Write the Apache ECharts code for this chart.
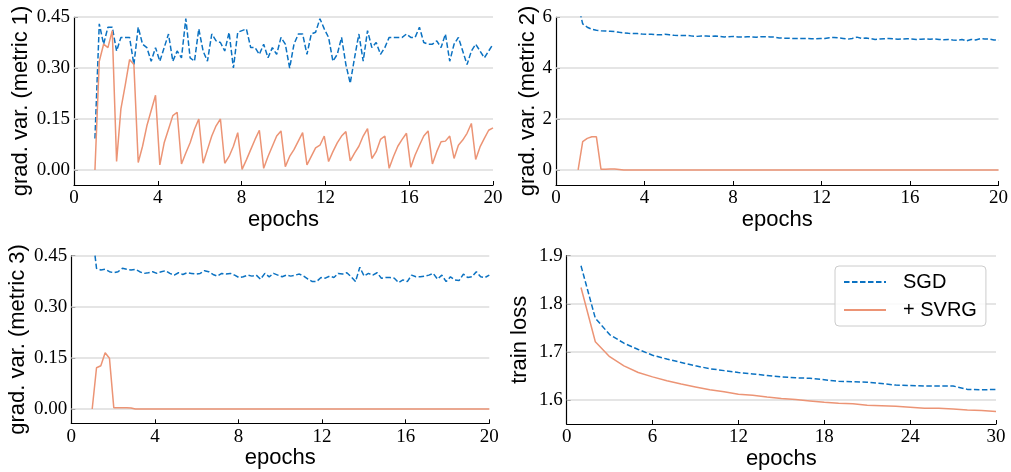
<!DOCTYPE html>
<html><head><meta charset="utf-8">
<script src="https://cdn.jsdelivr.net/npm/echarts@6/dist/echarts.min.js"></script>
<style>html,body{margin:0;padding:0;background:#fff}#c{width:1011px;height:472px}</style>
</head><body><div id="c"></div>
<script>
// sampling grid of the gradient-variance curves (epochs 1..20, 93 samples)
const nSamples = 93;
const epochs = Array.from({length: nSamples}, (_, k) => 1 + k * 19 / 92);

const m1SGD = [0.093,0.43,0.37,0.42,0.42,0.35,0.39,0.39,0.39,0.31,
  0.42,0.37,0.36,0.32,0.36,0.32,0.36,0.40,0.32,0.35,
  0.33,0.445,0.33,0.32,0.415,0.35,0.32,0.40,0.38,0.375,
  0.35,0.405,0.30,0.405,0.41,0.415,0.36,0.36,0.34,0.37,
  0.33,0.36,0.34,0.39,0.37,0.30,0.37,0.40,0.40,0.34,
  0.40,0.405,0.445,0.415,0.39,0.32,0.34,0.39,0.31,0.255,
  0.33,0.40,0.32,0.41,0.36,0.375,0.34,0.36,0.39,0.39,
  0.39,0.39,0.40,0.39,0.39,0.42,0.375,0.37,0.37,0.38,
  0.36,0.40,0.32,0.37,0.39,0.35,0.31,0.35,0.37,0.35,
  0.33,0.35,0.37];
const m1SVRG = [0,0.32,0.37,0.36,0.41, 0.025,0.18,0.25,0.325,0.31,
  0.022,0.07,0.13,0.175,0.22, 0.015,0.08,0.12,0.16,0.17,
  0.018,0.05,0.08,0.12,0.15, 0.02,0.06,0.10,0.13,0.15,
  0.02,0.04,0.07,0.11, 0.002,0.03,0.06,0.09,0.117,
  0.005,0.04,0.07,0.10,0.115, 0.01,0.04,0.06,0.085,0.11,
  0.015,0.04,0.065,0.073,0.10, 0.025,0.054,0.08,0.10,0.113,
  0.027,0.05,0.07,0.10,0.122, 0.034,0.054,0.09,0.10,
  0.005,0.04,0.07,0.09,0.108, 0.008,0.044,0.073,0.10,0.115,
  0.018,0.054,0.083,0.085,0.10, 0.034,0.073,0.088,0.108,0.137,
  0.031,0.068,0.093,0.117,0.124];

const m2SGD = [6.5,5.73,5.6,5.52,5.48,5.46,5.45,5.44,5.43,5.40,
  5.38,5.36,5.35,5.35,5.33,5.32,5.32,5.31,5.30,5.32,
  5.30,5.28,5.27,5.27,5.28,5.25,5.24,5.25,5.25,5.24,
  5.25,5.24,5.22,5.23,5.24,5.22,5.21,5.23,5.22,5.21,
  5.23,5.23,5.22,5.21,5.18,5.17,5.17,5.16,5.16,5.16,
  5.16,5.15,5.15,5.16,5.16,5.19,5.20,5.18,5.16,5.13,
  5.16,5.21,5.16,5.18,5.15,5.12,5.14,5.15,5.16,5.14,
  5.13,5.14,5.15,5.14,5.12,5.13,5.14,5.13,5.14,5.12,
  5.11,5.12,5.10,5.09,5.12,5.06,5.12,5.10,5.15,5.14,
  5.13,5.10,5.09];
const m2SVRG = [0,1.11,1.24,1.30,1.30,0.03,0.03,0.035,0.035,0.02,
  0,0,0,0,0,0,0,0,0,0, 0,0,0,0,0,0,0,0,0,0,
  0,0,0,0,0,0,0,0,0,0, 0,0,0,0,0,0,0,0,0,0,
  0,0,0,0,0,0,0,0,0,0, 0,0,0,0,0,0,0,0,0,0,
  0,0,0,0,0,0,0,0,0,0, 0,0,0,0,0,0,0,0,0,0,
  0,0,0];

const m3SGD = [0.52,0.413,0.408,0.41,0.403,0.40,0.403,0.413,0.41,0.408,
  0.41,0.403,0.398,0.40,0.403,0.398,0.403,0.406,0.398,0.393,
  0.40,0.395,0.40,0.398,0.396,0.398,0.406,0.403,0.395,0.39,
  0.398,0.396,0.398,0.393,0.386,0.388,0.393,0.39,0.393,0.381,
  0.398,0.388,0.398,0.393,0.388,0.393,0.39,0.393,0.396,0.39,
  0.381,0.374,0.374,0.386,0.384,0.39,0.386,0.398,0.396,0.40,
  0.388,0.374,0.416,0.39,0.398,0.393,0.40,0.384,0.386,0.386,
  0.384,0.371,0.379,0.374,0.393,0.388,0.388,0.39,0.393,0.398,
  0.381,0.393,0.374,0.388,0.379,0.377,0.396,0.386,0.388,0.403,
  0.388,0.386,0.393];
const m3SVRG = [0,0.121,0.127,0.165,0.149,0.004,0.004,0.004,0.004,0.003,
  0,0,0,0,0,0,0,0,0,0, 0,0,0,0,0,0,0,0,0,0,
  0,0,0,0,0,0,0,0,0,0, 0,0,0,0,0,0,0,0,0,0,
  0,0,0,0,0,0,0,0,0,0, 0,0,0,0,0,0,0,0,0,0,
  0,0,0,0,0,0,0,0,0,0, 0,0,0,0,0,0,0,0,0,0,
  0,0,0];

const lossEpochs = [1,2,3,4,5,6,7,8,9,10,11,12,13,14,15,16,17,18,19,20,21,22,23,24,25,26,27,28,29,30];
const lossSGD = [1.879,1.770,1.736,1.718,1.705,1.693,1.685,1.678,1.671,1.665,
  1.661,1.657,1.654,1.651,1.648,1.646,1.645,1.642,1.639,1.638,
  1.637,1.634,1.631,1.630,1.629,1.629,1.629,1.622,1.621,1.622];
const lossSVRG = [1.834,1.721,1.690,1.671,1.657,1.648,1.640,1.633,1.627,1.621,
  1.617,1.612,1.610,1.606,1.603,1.601,1.598,1.595,1.593,1.592,
  1.589,1.588,1.587,1.585,1.583,1.583,1.581,1.579,1.578,1.576];

const varTicks = [0, 0.15, 0.30, 0.45];
const m2Ticks = [0, 2, 4, 6];
const lossTicks = [1.6, 1.7, 1.8, 1.9];

const BLUE = '#0b72c2';
const ORANGE = '#ec9475';
const SERIF = '"Liberation Serif","Times New Roman",serif';
const SANS = '"Liberation Sans",Arial,sans-serif';

function pairs(xs, ys) { return ys.map((y, i) => [xs[i], y]); }

function xAx(idx, max, interval) {
  return {
    type: 'value', gridIndex: idx, min: 0, max: max, interval: interval,
    name: 'epochs', nameLocation: 'middle', nameGap: 22,
    nameTextStyle: {fontFamily: SANS, fontSize: 22, color: '#000'},
    axisLine: {show: true, onZero: false, lineStyle: {color: '#000', width: 1.2}},
    axisTick: {show: true, inside: true, length: 4, lineStyle: {color: '#000', width: 1}},
    axisLabel: {fontFamily: SERIF, fontSize: 19, color: '#000', margin: 4},
    splitLine: {show: false}
  };
}
function yAx(idx, min, max, ticks, dec, name, gap) {
  return {
    type: 'value', gridIndex: idx, min: min, max: max,
    name: name, nameLocation: 'middle', nameRotate: 90, nameGap: gap,
    nameTextStyle: {fontFamily: SANS, fontSize: 22, color: '#000'},
    axisLine: {show: true, lineStyle: {color: '#000', width: 1.2}},
    axisTick: {show: true, inside: true, length: 4, customValues: ticks, lineStyle: {color: '#000', width: 1}},
    axisLabel: {fontFamily: SERIF, fontSize: 19, color: '#000', margin: 4, customValues: ticks,
      formatter: v => Number(v).toFixed(dec)},
    splitLine: {show: false}
  };
}
function gridLines(ticks) {
  return {
    silent: true, symbol: 'none', z: 1, animation: false,
    label: {show: false},
    lineStyle: {color: '#dddddd', width: 1.5, type: 'solid'},
    emphasis: {disabled: true},
    data: ticks.map(t => ({yAxis: t}))
  };
}
function sgd(idx, xs, ys, ticks) {
  return {
    name: 'SGD', type: 'line', xAxisIndex: idx, yAxisIndex: idx, data: pairs(xs, ys),
    symbol: 'none', z: 3, clip: true, animation: false,
    lineStyle: {color: BLUE, width: 1.5, type: [5.5, 2.5]}, itemStyle: {color: BLUE},
    markLine: gridLines(ticks)
  };
}
function svrg(idx, xs, ys) {
  return {
    name: '+ SVRG', type: 'line', xAxisIndex: idx, yAxisIndex: idx, data: pairs(xs, ys),
    symbol: 'none', z: 3, clip: true, animation: false,
    lineStyle: {color: ORANGE, width: 1.5}, itemStyle: {color: ORANGE}
  };
}

const option = {
  animation: false,
  backgroundColor: '#fff',
  grid: [
    {left: 74, top: 17, width: 419, height: 168},
    {left: 556, top: 17, width: 443.5, height: 168},
    {left: 71.3, top: 255.7, width: 418, height: 167.6},
    {left: 566.7, top: 255.7, width: 429.3, height: 168.3}
  ],
  xAxis: [xAx(0, 20, 4), xAx(1, 20, 4), xAx(2, 20, 4), xAx(3, 30, 6)],
  yAxis: [
    yAx(0, -0.044, 0.45, varTicks, 2, 'grad. var. (metric 1)', 42),
    yAx(1, -0.59, 6, m2Ticks, 0, 'grad. var. (metric 2)', 16),
    yAx(2, -0.042, 0.45, varTicks, 2, 'grad. var. (metric 3)', 42),
    yAx(3, 1.55, 1.9, lossTicks, 1, 'train loss', 36)
  ],
  legend: {
    orient: 'vertical', left: 835, top: 266,
    data: ['SGD', '+ SVRG'],
    itemWidth: 42, itemHeight: 14, itemGap: 8,
    padding: [6, 9, 6, 8],
    borderColor: '#cccccc', borderWidth: 1, borderRadius: 4,
    backgroundColor: 'rgba(255,255,255,0.85)',
    itemStyle: {color: 'rgba(0,0,0,0)', borderWidth: 0, opacity: 0},
    textStyle: {fontFamily: SANS, fontSize: 20, color: '#000', padding: [0, 0, 0, 12]}
  },
  series: [
    sgd(0, epochs, m1SGD, varTicks), svrg(0, epochs, m1SVRG),
    sgd(1, epochs, m2SGD, m2Ticks), svrg(1, epochs, m2SVRG),
    sgd(2, epochs, m3SGD, varTicks), svrg(2, epochs, m3SVRG),
    sgd(3, lossEpochs, lossSGD, lossTicks), svrg(3, lossEpochs, lossSVRG)
  ]
};
const chart = echarts.init(document.getElementById('c'), null, {renderer: 'canvas'});
chart.setOption(option);
</script></body></html>
